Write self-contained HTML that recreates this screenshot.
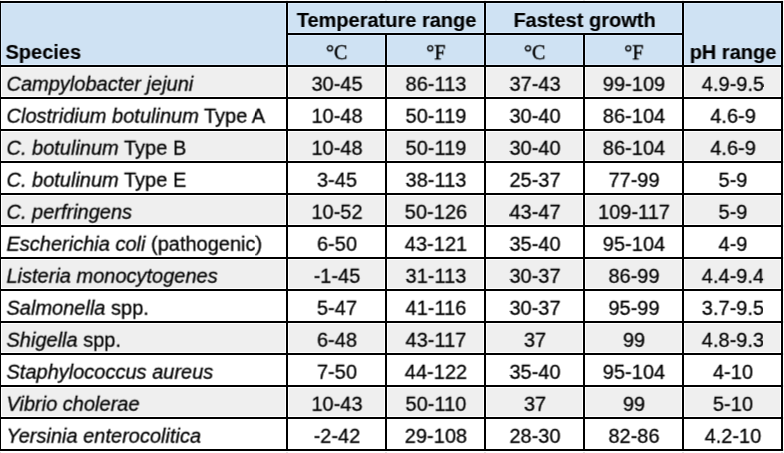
<!DOCTYPE html>
<html><head><meta charset="utf-8"><title>Pathogen growth table</title>
<style>
html,body{margin:0;padding:0;background:#fff;}
body{width:784px;height:453px;position:relative;overflow:hidden;font-family:"Liberation Sans",Arial,sans-serif;font-size:20px;color:#000;}
.layer{position:absolute;left:0;top:0;width:784px;height:453px;will-change:transform;}
#th{transform:translate(0.5px,0px) rotate(0.01deg);-webkit-text-stroke:0.15px #000;}
#td{transform:translate(0.5px,0.8px) rotate(0.01deg);-webkit-text-stroke:0.28px #000;}
#ts{transform:translate(0.3px,0.3px) rotate(0.01deg);}
.b{position:absolute;box-sizing:border-box;}
.c{position:absolute;box-sizing:border-box;white-space:nowrap;height:30px;line-height:30px;}
.h{background:#cfe2f3;box-shadow:inset 0 0 0 1px #dcedfd;}
.g{background:#efefef;box-shadow:inset 0 0 0 1px #fff;}
.l{position:absolute;background:#000;}
.f{position:absolute;background:#e4e4e4;height:1px;top:452px;}
.n{text-align:center;}
.s{padding-left:5px;}
.hb{font-weight:bold;}
.d{font-family:"Liberation Serif","Times New Roman",serif;font-weight:normal;text-align:center;-webkit-text-stroke:0.42px #000;}
</style></head><body>
<div class="layer" id="bg">

<div class="b h" style="left:1px;top:3px;width:285px;height:62px"></div>
<div class="b h" style="left:288px;top:3px;width:196px;height:30px"></div>
<div class="b h" style="left:486px;top:3px;width:196px;height:30px"></div>
<div class="b h" style="left:684px;top:3px;width:97px;height:62px"></div>
<div class="b h" style="left:288px;top:35px;width:97px;height:30px"></div>
<div class="b h" style="left:387px;top:35px;width:97px;height:30px"></div>
<div class="b h" style="left:486px;top:35px;width:97px;height:30px"></div>
<div class="b h" style="left:585px;top:35px;width:97px;height:30px"></div>
<div class="b g" style="left:1px;top:67px;width:285px;height:30px"></div>
<div class="b g" style="left:288px;top:67px;width:97px;height:30px"></div>
<div class="b g" style="left:387px;top:67px;width:97px;height:30px"></div>
<div class="b g" style="left:486px;top:67px;width:97px;height:30px"></div>
<div class="b g" style="left:585px;top:67px;width:97px;height:30px"></div>
<div class="b g" style="left:684px;top:67px;width:97px;height:30px"></div>
<div class="b g" style="left:1px;top:131px;width:285px;height:30px"></div>
<div class="b g" style="left:288px;top:131px;width:97px;height:30px"></div>
<div class="b g" style="left:387px;top:131px;width:97px;height:30px"></div>
<div class="b g" style="left:486px;top:131px;width:97px;height:30px"></div>
<div class="b g" style="left:585px;top:131px;width:97px;height:30px"></div>
<div class="b g" style="left:684px;top:131px;width:97px;height:30px"></div>
<div class="b g" style="left:1px;top:195px;width:285px;height:30px"></div>
<div class="b g" style="left:288px;top:195px;width:97px;height:30px"></div>
<div class="b g" style="left:387px;top:195px;width:97px;height:30px"></div>
<div class="b g" style="left:486px;top:195px;width:97px;height:30px"></div>
<div class="b g" style="left:585px;top:195px;width:97px;height:30px"></div>
<div class="b g" style="left:684px;top:195px;width:97px;height:30px"></div>
<div class="b g" style="left:1px;top:259px;width:285px;height:30px"></div>
<div class="b g" style="left:288px;top:259px;width:97px;height:30px"></div>
<div class="b g" style="left:387px;top:259px;width:97px;height:30px"></div>
<div class="b g" style="left:486px;top:259px;width:97px;height:30px"></div>
<div class="b g" style="left:585px;top:259px;width:97px;height:30px"></div>
<div class="b g" style="left:684px;top:259px;width:97px;height:30px"></div>
<div class="b g" style="left:1px;top:323px;width:285px;height:30px"></div>
<div class="b g" style="left:288px;top:323px;width:97px;height:30px"></div>
<div class="b g" style="left:387px;top:323px;width:97px;height:30px"></div>
<div class="b g" style="left:486px;top:323px;width:97px;height:30px"></div>
<div class="b g" style="left:585px;top:323px;width:97px;height:30px"></div>
<div class="b g" style="left:684px;top:323px;width:97px;height:30px"></div>
<div class="b g" style="left:1px;top:387px;width:285px;height:30px"></div>
<div class="b g" style="left:288px;top:387px;width:97px;height:30px"></div>
<div class="b g" style="left:387px;top:387px;width:97px;height:30px"></div>
<div class="b g" style="left:486px;top:387px;width:97px;height:30px"></div>
<div class="b g" style="left:585px;top:387px;width:97px;height:30px"></div>
<div class="b g" style="left:684px;top:387px;width:97px;height:30px"></div>
<div class="l" style="left:0px;top:1px;width:1px;height:450px"></div>
<div class="l" style="left:286px;top:1px;width:2px;height:450px"></div>
<div class="l" style="left:385px;top:33px;width:2px;height:418px"></div>
<div class="l" style="left:484px;top:1px;width:2px;height:450px"></div>
<div class="l" style="left:583px;top:33px;width:2px;height:418px"></div>
<div class="l" style="left:682px;top:1px;width:2px;height:450px"></div>
<div class="l" style="left:781px;top:1px;width:2px;height:450px"></div>
<div class="l" style="left:0px;top:1px;width:783px;height:2px"></div>
<div class="l" style="left:286px;top:33px;width:398px;height:2px"></div>
<div class="l" style="left:0px;top:65px;width:783px;height:2px"></div>
<div class="l" style="left:0px;top:97px;width:783px;height:2px"></div>
<div class="l" style="left:0px;top:129px;width:783px;height:2px"></div>
<div class="l" style="left:0px;top:161px;width:783px;height:2px"></div>
<div class="l" style="left:0px;top:193px;width:783px;height:2px"></div>
<div class="l" style="left:0px;top:225px;width:783px;height:2px"></div>
<div class="l" style="left:0px;top:257px;width:783px;height:2px"></div>
<div class="l" style="left:0px;top:289px;width:783px;height:2px"></div>
<div class="l" style="left:0px;top:321px;width:783px;height:2px"></div>
<div class="l" style="left:0px;top:353px;width:783px;height:2px"></div>
<div class="l" style="left:0px;top:385px;width:783px;height:2px"></div>
<div class="l" style="left:0px;top:417px;width:783px;height:2px"></div>
<div class="l" style="left:0px;top:449px;width:783px;height:2px"></div>
<div class="f" style="left:0px;width:1px"></div>
<div class="f" style="left:0px;width:1px;top:0;background:#efefef"></div>
<div class="f" style="left:286px;width:2px"></div>
<div class="f" style="left:286px;width:2px;top:0;background:#efefef"></div>
<div class="f" style="left:385px;width:2px"></div>
<div class="f" style="left:385px;width:2px;top:0;background:#efefef"></div>
<div class="f" style="left:484px;width:2px"></div>
<div class="f" style="left:484px;width:2px;top:0;background:#efefef"></div>
<div class="f" style="left:583px;width:2px"></div>
<div class="f" style="left:583px;width:2px;top:0;background:#efefef"></div>
<div class="f" style="left:682px;width:2px"></div>
<div class="f" style="left:682px;width:2px;top:0;background:#efefef"></div>
<div class="f" style="left:781px;width:2px"></div>
<div class="f" style="left:781px;width:2px;top:0;background:#efefef"></div>
<div class="f" style="left:783px;width:1px;top:1px;height:2px;background:#ececec"></div>
<div class="f" style="left:783px;width:1px;top:65px;height:2px;background:#ececec"></div>
<div class="f" style="left:783px;width:1px;top:97px;height:2px;background:#ececec"></div>
<div class="f" style="left:783px;width:1px;top:129px;height:2px;background:#ececec"></div>
<div class="f" style="left:783px;width:1px;top:161px;height:2px;background:#ececec"></div>
<div class="f" style="left:783px;width:1px;top:193px;height:2px;background:#ececec"></div>
<div class="f" style="left:783px;width:1px;top:225px;height:2px;background:#ececec"></div>
<div class="f" style="left:783px;width:1px;top:257px;height:2px;background:#ececec"></div>
<div class="f" style="left:783px;width:1px;top:289px;height:2px;background:#ececec"></div>
<div class="f" style="left:783px;width:1px;top:321px;height:2px;background:#ececec"></div>
<div class="f" style="left:783px;width:1px;top:353px;height:2px;background:#ececec"></div>
<div class="f" style="left:783px;width:1px;top:385px;height:2px;background:#ececec"></div>
<div class="f" style="left:783px;width:1px;top:417px;height:2px;background:#ececec"></div>
<div class="f" style="left:783px;width:1px;top:449px;height:2px;background:#ececec"></div>
</div>
<div class="layer" id="th">
<div class="c hb" style="left:5px;top:37px;width:281px">Species</div>
<div class="c hb n" style="left:288px;top:5px;width:196px">Temperature range</div>
<div class="c hb n" style="left:486px;top:5px;width:196px">Fastest growth</div>
<div class="c hb n" style="left:684px;top:37px;width:97px">pH range</div>
</div>
<div class="layer" id="ts">
<div class="c d" style="left:288px;top:37px;width:97px">°C</div>
<div class="c d" style="left:387px;top:37px;width:97px">°F</div>
<div class="c d" style="left:486px;top:37px;width:97px">°C</div>
<div class="c d" style="left:585px;top:37px;width:97px">°F</div>
</div>
<div class="layer" id="td">
<div class="c s" style="left:1px;top:68px;width:285px"><i>Campylobacter jejuni</i></div>
<div class="c n" style="left:288px;top:68px;width:97px">30-45</div>
<div class="c n" style="left:387px;top:68px;width:97px">86-113</div>
<div class="c n" style="left:486px;top:68px;width:97px">37-43</div>
<div class="c n" style="left:585px;top:68px;width:97px">99-109</div>
<div class="c n" style="left:684px;top:68px;width:97px">4.9-9.5</div>
<div class="c s" style="left:1px;top:100px;width:285px"><i>Clostridium botulinum</i> Type A</div>
<div class="c n" style="left:288px;top:100px;width:97px">10-48</div>
<div class="c n" style="left:387px;top:100px;width:97px">50-119</div>
<div class="c n" style="left:486px;top:100px;width:97px">30-40</div>
<div class="c n" style="left:585px;top:100px;width:97px">86-104</div>
<div class="c n" style="left:684px;top:100px;width:97px">4.6-9</div>
<div class="c s" style="left:1px;top:132px;width:285px"><i>C. botulinum</i> Type B</div>
<div class="c n" style="left:288px;top:132px;width:97px">10-48</div>
<div class="c n" style="left:387px;top:132px;width:97px">50-119</div>
<div class="c n" style="left:486px;top:132px;width:97px">30-40</div>
<div class="c n" style="left:585px;top:132px;width:97px">86-104</div>
<div class="c n" style="left:684px;top:132px;width:97px">4.6-9</div>
<div class="c s" style="left:1px;top:164px;width:285px"><i>C. botulinum</i> Type E</div>
<div class="c n" style="left:288px;top:164px;width:97px">3-45</div>
<div class="c n" style="left:387px;top:164px;width:97px">38-113</div>
<div class="c n" style="left:486px;top:164px;width:97px">25-37</div>
<div class="c n" style="left:585px;top:164px;width:97px">77-99</div>
<div class="c n" style="left:684px;top:164px;width:97px">5-9</div>
<div class="c s" style="left:1px;top:196px;width:285px"><i>C. perfringens</i></div>
<div class="c n" style="left:288px;top:196px;width:97px">10-52</div>
<div class="c n" style="left:387px;top:196px;width:97px">50-126</div>
<div class="c n" style="left:486px;top:196px;width:97px">43-47</div>
<div class="c n" style="left:585px;top:196px;width:97px">109-117</div>
<div class="c n" style="left:684px;top:196px;width:97px">5-9</div>
<div class="c s" style="left:1px;top:228px;width:285px"><i>Escherichia coli</i> (pathogenic)</div>
<div class="c n" style="left:288px;top:228px;width:97px">6-50</div>
<div class="c n" style="left:387px;top:228px;width:97px">43-121</div>
<div class="c n" style="left:486px;top:228px;width:97px">35-40</div>
<div class="c n" style="left:585px;top:228px;width:97px">95-104</div>
<div class="c n" style="left:684px;top:228px;width:97px">4-9</div>
<div class="c s" style="left:1px;top:260px;width:285px"><i>Listeria monocytogenes</i></div>
<div class="c n" style="left:288px;top:260px;width:97px">-1-45</div>
<div class="c n" style="left:387px;top:260px;width:97px">31-113</div>
<div class="c n" style="left:486px;top:260px;width:97px">30-37</div>
<div class="c n" style="left:585px;top:260px;width:97px">86-99</div>
<div class="c n" style="left:684px;top:260px;width:97px">4.4-9.4</div>
<div class="c s" style="left:1px;top:292px;width:285px"><i>Salmonella</i> spp.</div>
<div class="c n" style="left:288px;top:292px;width:97px">5-47</div>
<div class="c n" style="left:387px;top:292px;width:97px">41-116</div>
<div class="c n" style="left:486px;top:292px;width:97px">30-37</div>
<div class="c n" style="left:585px;top:292px;width:97px">95-99</div>
<div class="c n" style="left:684px;top:292px;width:97px">3.7-9.5</div>
<div class="c s" style="left:1px;top:324px;width:285px"><i>Shigella</i> spp.</div>
<div class="c n" style="left:288px;top:324px;width:97px">6-48</div>
<div class="c n" style="left:387px;top:324px;width:97px">43-117</div>
<div class="c n" style="left:486px;top:324px;width:97px">37</div>
<div class="c n" style="left:585px;top:324px;width:97px">99</div>
<div class="c n" style="left:684px;top:324px;width:97px">4.8-9.3</div>
<div class="c s" style="left:1px;top:356px;width:285px"><i>Staphylococcus aureus</i></div>
<div class="c n" style="left:288px;top:356px;width:97px">7-50</div>
<div class="c n" style="left:387px;top:356px;width:97px">44-122</div>
<div class="c n" style="left:486px;top:356px;width:97px">35-40</div>
<div class="c n" style="left:585px;top:356px;width:97px">95-104</div>
<div class="c n" style="left:684px;top:356px;width:97px">4-10</div>
<div class="c s" style="left:1px;top:388px;width:285px"><i>Vibrio cholerae</i></div>
<div class="c n" style="left:288px;top:388px;width:97px">10-43</div>
<div class="c n" style="left:387px;top:388px;width:97px">50-110</div>
<div class="c n" style="left:486px;top:388px;width:97px">37</div>
<div class="c n" style="left:585px;top:388px;width:97px">99</div>
<div class="c n" style="left:684px;top:388px;width:97px">5-10</div>
<div class="c s" style="left:1px;top:420px;width:285px"><i>Yersinia enterocolitica</i></div>
<div class="c n" style="left:288px;top:420px;width:97px">-2-42</div>
<div class="c n" style="left:387px;top:420px;width:97px">29-108</div>
<div class="c n" style="left:486px;top:420px;width:97px">28-30</div>
<div class="c n" style="left:585px;top:420px;width:97px">82-86</div>
<div class="c n" style="left:684px;top:420px;width:97px">4.2-10</div>
</div>
</body></html>
